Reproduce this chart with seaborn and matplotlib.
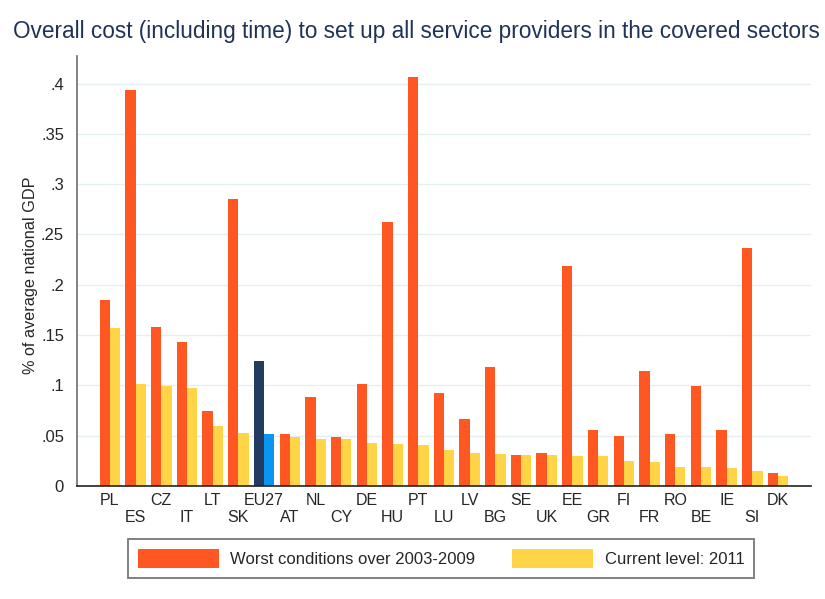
import matplotlib
matplotlib.use("Agg")
import matplotlib.pyplot as plt
from matplotlib.patches import Patch
import pandas as pd
import seaborn as sns

# ---------------------------------------------
# data
# ---------------------------------------------
countries = ["PL", "ES", "CZ", "IT", "LT", "SK", "EU27", "AT", "NL", "CY",
             "DE", "HU", "PT", "LU", "LV", "BG", "SE", "UK", "EE", "GR",
             "FI", "FR", "RO", "BE", "IE", "SI", "DK"]

worst = [0.185, 0.394, 0.158, 0.143, 0.075, 0.285, 0.124, 0.052, 0.088, 0.049,
         0.101, 0.262, 0.407, 0.092, 0.067, 0.118, 0.031, 0.033, 0.219, 0.056,
         0.050, 0.114, 0.052, 0.099, 0.056, 0.237, 0.013]

current = [0.157, 0.101, 0.099, 0.097, 0.060, 0.053, 0.052, 0.049, 0.047, 0.047,
           0.043, 0.042, 0.041, 0.036, 0.033, 0.032, 0.031, 0.031, 0.030, 0.030,
           0.025, 0.024, 0.019, 0.019, 0.018, 0.015, 0.010]

series_names = ["Worst conditions over 2003-2009", "Current level: 2011"]

yticks = [0, 0.05, 0.1, 0.15, 0.2, 0.25, 0.3, 0.35, 0.4]
ytick_labels = ["0", ".05", ".1", ".15", ".2", ".25", ".3", ".35", ".4"]

orange = "#FF5722"
yellow = "#FFD447"
navy = "#233B60"
blue = "#0A96F0"

df = pd.DataFrame({
    "country": countries * 2,
    "value": worst + current,
    "series": [series_names[0]] * len(countries) + [series_names[1]] * len(countries),
})

# ---------------------------------------------
# plot
# ---------------------------------------------
sns.set_style("white")
plt.rcParams["font.family"] = ["Liberation Sans", "DejaVu Sans"]

fig = plt.figure(figsize=(8.25, 5.99), dpi=100)
ax = fig.add_axes([0.0933, 0.1886, 0.8897, 0.7184])

sns.barplot(
    data=df, x="country", y="value", hue="series",
    order=countries, hue_order=series_names,
    palette=[orange, yellow], saturation=1, width=0.8,
    linewidth=0, legend=False, ax=ax
)

# EU27 average in blue tones
eu = countries.index("EU27")
ax.containers[0][eu].set_facecolor(navy)
ax.containers[1][eu].set_facecolor(blue)

ax.set_xlim(-1.285, len(countries) - 1 + 1.285)
ax.set_ylim(0, 0.4277)

ax.set_yticks(yticks)
ax.set_yticklabels(ytick_labels, fontsize=12)
ax.tick_params(axis="y", length=5, width=1, color="#333333", pad=4.3)

# staggered country labels
even = list(range(0, len(countries), 2))
odd = list(range(1, len(countries), 2))
ax.set_xticks(even)
ax.set_xticklabels([countries[i] for i in even], fontsize=11.5)
ax.set_xticks(odd, minor=True)
ax.set_xticklabels([countries[i] for i in odd], minor=True, fontsize=11.5)
ax.tick_params(axis="x", which="major", length=0, pad=5)
ax.tick_params(axis="x", which="minor", length=0, pad=17.5)

ax.set_xlabel("")
ax.set_ylabel("")

ax.yaxis.grid(True, color="#E5EEF0", linewidth=1)
ax.set_axisbelow(True)

for side in ["top", "right"]:
    ax.spines[side].set_visible(False)
ax.spines["left"].set_color("#6E6E6E")
ax.spines["left"].set_linewidth(1.2)
ax.spines["bottom"].set_color("#222222")
ax.spines["bottom"].set_linewidth(1.2)

fig.text(0.5044, 0.948, "Overall cost (including time) to set up all service providers in the covered sectors",
         ha="center", va="center", fontsize=16.3, color="#1F3358")

fig.text(31 / 825, 1 - 275 / 599, "% of average national GDP",
         rotation=90, ha="center", va="center", fontsize=11.7)

handles = [Patch(facecolor=orange, edgecolor="none"), Patch(facecolor=yellow, edgecolor="none")]
leg = fig.legend(
    handles, series_names, loc="center", bbox_to_anchor=(0.5345, 0.0676),
    ncol=2, fontsize=12, frameon=True, fancybox=False,
    handlelength=4.86, handleheight=1.38, handletextpad=0.7,
    columnspacing=2.2, borderpad=0.6
)
leg.get_frame().set_edgecolor("#555555")
leg.get_frame().set_linewidth(1.3)

fig.savefig("out.png", dpi=100)
